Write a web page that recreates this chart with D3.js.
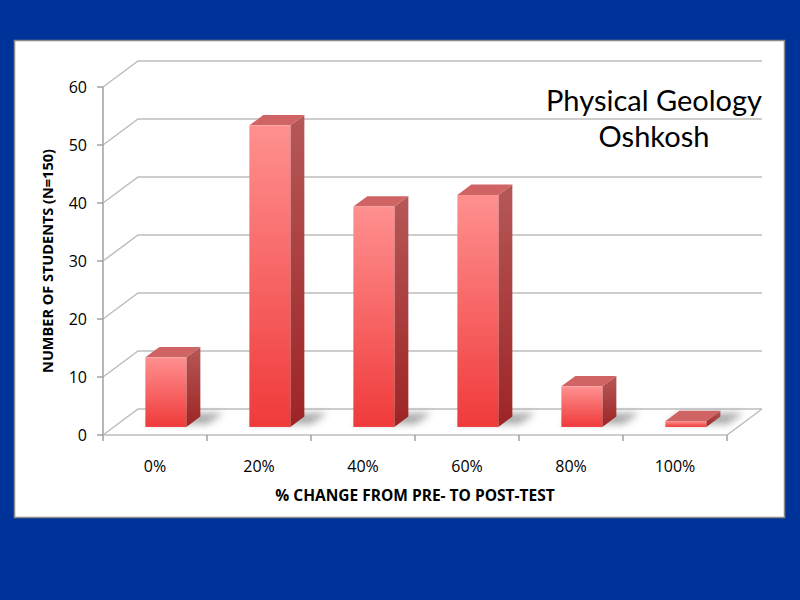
<!DOCTYPE html>
<html>
<head>
<meta charset="utf-8">
<script src="https://cdn.jsdelivr.net/npm/d3@7"></script>
<style>
  body { margin: 0; background: #003399; }
  svg { display: block; }
</style>
</head>
<body>
<div id="chart"></div>
<script>
// Chart data
const categories = ["0%", "20%", "40%", "60%", "80%", "100%"];
const students = [12, 52, 38, 40, 7, 1];
const yTicks = [0, 10, 20, 30, 40, 50, 60];
const titleLines = ["Physical Geology", "Oshkosh"];

const width = 800, height = 600;

// 3D projection settings (depth offset of the back wall)
const depthX = 35, depthY = -26;
const barFront = 0.31, barDepth = 0.4;

const svg = d3.select("#chart")
    .append("svg")
    .attr("width", width)
    .attr("height", height);

const defs = svg.append("defs");

// gradients for bar faces
const front = defs.append("linearGradient").attr("id", "frontGrad")
    .attr("x1", 0).attr("y1", 0).attr("x2", 0).attr("y2", 1);
front.append("stop").attr("offset", "0%").attr("stop-color", "#ff9090");
front.append("stop").attr("offset", "100%").attr("stop-color", "#f03a3a");

const side = defs.append("linearGradient").attr("id", "sideGrad")
    .attr("x1", 0).attr("y1", 0).attr("x2", 0).attr("y2", 1);
side.append("stop").attr("offset", "0%").attr("stop-color", "#b65858");
side.append("stop").attr("offset", "100%").attr("stop-color", "#9e2424");

defs.append("filter").attr("id", "blur")
    .attr("x", "-50%").attr("y", "-50%").attr("width", "200%").attr("height", "200%")
    .append("feGaussianBlur").attr("stdDeviation", 3.5);

// background
svg.append("rect").attr("width", width).attr("height", height).attr("fill", "#003399");
svg.append("rect")
    .attr("x", 14.5).attr("y", 40.5)
    .attr("width", 770).attr("height", 477)
    .attr("fill", "#fff")
    .attr("stroke", "#8a8a8a")
    .attr("stroke-width", 1.5);

const x = d3.scaleBand()
    .domain(categories)
    .range([103, 727]);

const y = d3.scaleLinear()
    .domain([0, 60])
    .range([435, 87]);

// project a point at depth d (0 = front, 1 = back)
const P = (px, py, d) => [px + d * depthX, py + d * depthY];
const pts = arr => arr.map(p => p.join(",")).join(" ");

const x0 = x.range()[0], x1 = x.range()[1];

// back wall gridlines and left wall diagonals
const grid = svg.append("g");
yTicks.forEach(t => {
    const a = P(x0, y(t), 0), b = P(x0, y(t), 1), c = P(x1, y(t), 1);
    grid.append("polyline")
        .attr("points", pts([a, b, c]))
        .attr("fill", "none")
        .attr("stroke", "#bdbdbd")
        .attr("stroke-width", 1.5);
});

// floor outline
svg.append("polyline")
    .attr("points", pts([P(x0, y(0), 0), P(x1, y(0), 0), P(x1, y(0), 1)]))
    .attr("fill", "none")
    .attr("stroke", "#bdbdbd")
    .attr("stroke-width", 1.5);

// y axis line and ticks
svg.append("line")
    .attr("x1", x0).attr("x2", x0)
    .attr("y1", y(60)).attr("y2", y(0))
    .attr("stroke", "#a0a0a0").attr("stroke-width", 1.5);

svg.append("g").selectAll("line")
    .data(yTicks).enter().append("line")
    .attr("x1", x0 - 6).attr("x2", x0)
    .attr("y1", d => y(d)).attr("y2", d => y(d))
    .attr("stroke", "#a0a0a0").attr("stroke-width", 1.5);

svg.append("g").selectAll("text")
    .data(yTicks).enter().append("text")
    .attr("x", x0 - 16)
    .attr("y", d => y(d))
    .attr("dy", "0.36em")
    .attr("text-anchor", "end")
    .style("font-family", "'Open Sans', sans-serif")
    .style("font-size", "16px")
    .attr("fill", "#000")
    .text(d => d);

// x ticks
svg.append("g").selectAll("line")
    .data(categories.concat(["end"])).enter().append("line")
    .attr("x1", (d, i) => x0 + i * x.bandwidth())
    .attr("x2", (d, i) => x0 + i * x.bandwidth())
    .attr("y1", y(0)).attr("y2", y(0) + 6)
    .attr("stroke", "#a0a0a0").attr("stroke-width", 1.5);

svg.append("g").selectAll("text")
    .data(categories).enter().append("text")
    .attr("x", d => x(d) + x.bandwidth() / 2)
    .attr("y", 472)
    .attr("text-anchor", "middle")
    .style("font-family", "'Open Sans', sans-serif")
    .style("font-size", "16px")
    .attr("fill", "#000")
    .text(d => d);

// bars
const barW = 41;
const bars = svg.append("g");
categories.forEach((c, i) => {
    const v = students[i];
    const cx = x(c) + x.bandwidth() / 2 - barW / 2;
    const d0 = barFront, d1 = barFront + barDepth;
    const fl = P(cx, y(0), d0), ft = P(cx, y(v), d0);
    const fr = P(cx + barW, y(0), d0), frt = P(cx + barW, y(v), d0);
    const br = P(cx + barW, y(0), d1), brt = P(cx + barW, y(v), d1);
    const blt = P(cx, y(v), d1);

    // soft shadow on the floor
    const s0 = P(cx - 4, y(0), d0 + 0.1), s1 = P(cx + barW + 18, y(0), d0 + 0.1);
    const s2 = P(cx + barW + 18, y(0), d1 + 0.15), s3 = P(cx - 4, y(0), d1 + 0.15);
    bars.append("polygon")
        .attr("points", pts([s0, s1, s2, s3]))
        .attr("fill", "#8c8c8c")
        .attr("opacity", 0.7)
        .attr("filter", "url(#blur)");

    // side face
    bars.append("polygon")
        .attr("points", pts([fr, br, brt, frt]))
        .attr("fill", "url(#sideGrad)");
    // top face
    bars.append("polygon")
        .attr("points", pts([ft, frt, brt, blt]))
        .attr("fill", "#d06464");
    // front face
    bars.append("rect")
        .attr("x", ft[0]).attr("y", ft[1])
        .attr("width", barW)
        .attr("height", fl[1] - ft[1])
        .attr("fill", "url(#frontGrad)");
});

// axis titles
svg.append("text")
    .attr("transform", "translate(53,261) rotate(-90)")
    .attr("text-anchor", "middle")
    .style("font-family", "'Open Sans', sans-serif")
    .style("font-weight", "bold")
    .style("font-size", "14.5px")
    .attr("fill", "#000")
    .text("NUMBER OF STUDENTS (N=150)");

svg.append("text")
    .attr("x", 415)
    .attr("y", 501)
    .attr("text-anchor", "middle")
    .style("font-family", "'Open Sans', sans-serif")
    .style("font-weight", "bold")
    .style("font-size", "15.5px")
    .attr("fill", "#000")
    .text("% CHANGE FROM PRE- TO POST-TEST");

// chart title
svg.append("g").selectAll("text")
    .data(titleLines).enter().append("text")
    .attr("x", 654)
    .attr("y", (d, i) => 111 + i * 36)
    .attr("text-anchor", "middle")
    .style("font-family", "Lato, sans-serif")
    .style("font-size", "29px")
    .attr("fill", "#000")
    .text(d => d);
</script>
</body>
</html>
